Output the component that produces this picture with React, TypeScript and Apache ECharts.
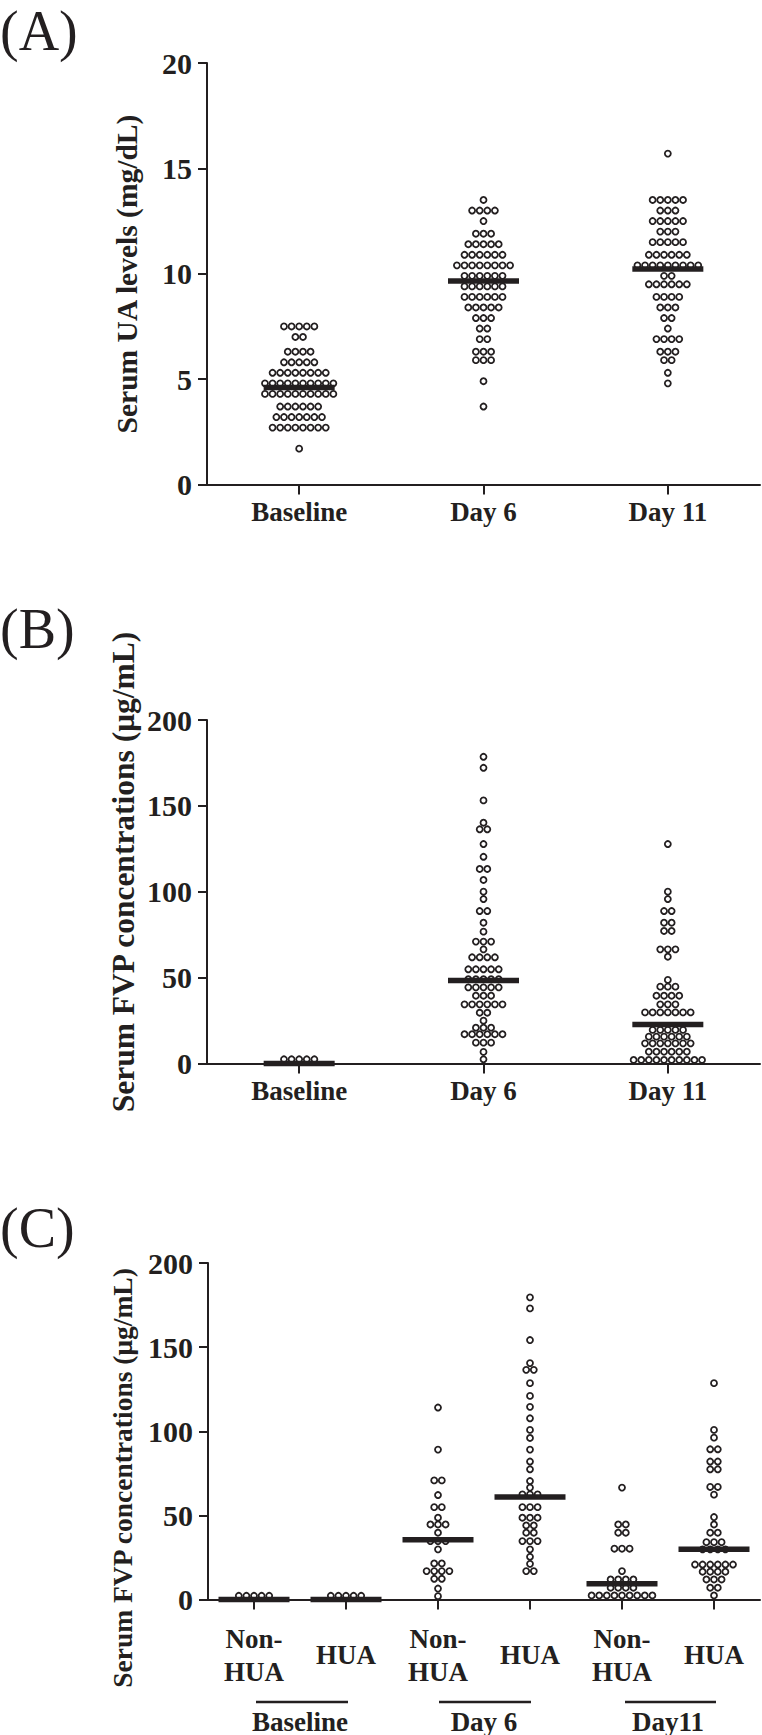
import React, { useEffect, useRef } from "react";
import * as echarts from "echarts";

// ---------- Data ----------
const CATS_AB = ["Baseline", "Day 6", "Day 11"];
const CATS_C = ["Non-\nHUA", "HUA", "Non-\nHUA", "HUA", "Non-\nHUA", "HUA"];
const GROUPS_C = ["Baseline", "Day 6", "Day11"];

const UA_TICKS = [0, 5, 10, 15, 20];
const FVP_TICKS = [0, 50, 100, 150, 200];

// Panel A: serum UA (mg/dL)
const UA_BASELINE = [
  7.5, 7.5, 7.5, 7.5, 7.5, 7.0, 7.0, 6.3, 6.3, 6.3, 6.3, 5.8, 5.8, 5.8, 5.8, 5.8,
  5.3, 5.3, 5.3, 5.3, 5.3, 5.3, 5.3, 5.3, 4.8, 4.8, 4.8, 4.8, 4.8, 4.8, 4.8, 4.8, 4.8, 4.8,
  4.3, 4.3, 4.3, 4.3, 4.3, 4.3, 4.3, 4.3, 4.3, 4.3, 3.7, 3.7, 3.7, 3.7, 3.7, 3.7,
  3.2, 3.2, 3.2, 3.2, 3.2, 3.2, 3.2, 2.7, 2.7, 2.7, 2.7, 2.7, 2.7, 2.7, 2.7, 1.7,
];
const UA_DAY6 = [
  13.5, 13.0, 13.0, 13.0, 13.0, 12.5, 11.9, 11.9, 11.9, 11.4, 11.4, 11.4, 11.4, 11.4,
  10.9, 10.9, 10.9, 10.9, 10.9, 10.9, 10.4, 10.4, 10.4, 10.4, 10.4, 10.4, 10.4, 10.4,
  9.9, 9.9, 9.9, 9.9, 9.9, 9.9, 9.4, 9.4, 9.4, 9.4, 9.4, 9.4, 8.9, 8.9, 8.9, 8.9, 8.9, 8.9,
  8.4, 8.4, 8.4, 8.4, 8.4, 7.9, 7.9, 7.9, 7.4, 7.4, 6.9, 6.9, 6.3, 6.3, 6.3, 5.9, 5.9, 5.9,
  4.9, 3.7,
];
const UA_DAY11 = [
  15.7, 13.5, 13.5, 13.5, 13.5, 13.5, 13.0, 13.0, 13.0, 12.5, 12.5, 12.5, 12.5, 12.5,
  12.0, 12.0, 12.0, 11.5, 11.5, 11.5, 11.5, 11.5, 10.9, 10.9, 10.9, 10.9, 10.9, 10.9,
  10.4, 10.4, 10.4, 10.4, 10.4, 10.4, 10.4, 10.4, 10.4, 9.9, 9.9,
  9.5, 9.5, 9.5, 9.5, 9.5, 9.5, 8.9, 8.9, 8.9, 8.9, 8.4, 8.4, 8.4, 7.9, 7.9, 7.4,
  6.9, 6.9, 6.9, 6.9, 6.3, 6.3, 6.3, 5.9, 5.9, 5.3, 4.8,
];
const UA_MEDIANS = [4.6, 9.66, 10.22];

// Panel B: serum FVP (µg/mL), all patients
const FVP_BASELINE = [2.5, 2.5, 2.5, 2.5, 2.5];
const FVP_DAY6 = [
  178.6, 172.2, 153.2, 140.2, 136.4, 136.4, 127.8, 120.4, 113.3, 113.3, 106.9, 100.1, 95.8,
  88.8, 88.8, 82.0, 76.8, 71.0, 71.0, 71.0, 66.5, 61.9, 61.9, 61.9, 61.9,
  54.9, 54.9, 54.9, 54.9, 54.9, 49.1, 49.1, 49.1, 49.1, 49.1, 44.4, 44.4, 44.4, 44.4, 44.4,
  39.5, 39.5, 39.5, 34.5, 34.5, 34.5, 34.5, 34.5, 34.5, 29.6, 29.6, 25.0,
  20.9, 20.9, 20.9, 17.1, 17.1, 17.1, 17.1, 17.1, 17.1, 12.2, 12.2, 12.2, 6.8, 2.5,
];
const FVP_DAY11 = [
  127.8, 100.1, 95.8, 88.8, 88.8, 82.0, 82.0, 77.2, 77.2, 66.5, 66.5, 66.5, 62.2,
  48.7, 44.8, 44.8, 44.8, 39.5, 39.5, 39.5, 39.5, 34.5, 34.5, 34.5,
  29.8, 29.8, 29.8, 29.8, 29.8, 29.8, 29.8, 19.6, 19.6, 19.6, 19.6, 19.6,
  15.7, 15.7, 15.7, 15.7, 15.7, 15.7, 11.8, 11.8, 11.8, 11.8, 11.8, 11.8, 11.8,
  6.9, 6.9, 6.9, 6.9, 6.9, 6.9, 2.1, 2.1, 2.1, 2.1, 2.1, 2.1, 2.1, 2.1, 2.1, 2.1,
];
const FVP_MEDIANS = [0, 48.3, 22.7];

// Panel C: serum FVP split by Non-HUA / HUA
const C_BASE_NON = [2.2, 2.2, 2.2, 2.2, 2.2];
const C_BASE_HUA = [2.2, 2.2, 2.2, 2.2, 2.2];
const C_DAY6_NON = [
  114.1, 89.1, 70.8, 70.8, 62.1, 54.9, 54.9, 48.6, 44.6, 44.6, 44.6, 39.7,
  34.7, 34.7, 34.7, 29.8, 21.4, 21.4, 16.9, 16.9, 16.9, 16.9, 12.3, 12.3, 6.5, 2.0,
];
const C_DAY6_HUA = [
  179.6, 173.0, 154.2, 140.5, 136.5, 136.5, 128.6, 121.0, 114.5, 107.7, 100.8, 96.0,
  89.1, 82.0, 77.4, 70.4, 66.5, 62.5, 62.5, 62.5, 54.9, 54.9, 54.9, 48.6, 48.6, 48.6,
  44.0, 44.0, 39.7, 39.7, 34.7, 34.7, 34.7, 29.8, 25.4, 21.2, 16.9, 16.9,
];
const C_DAY11_NON = [
  66.5, 44.6, 44.6, 39.7, 39.7, 30.2, 30.2, 30.2, 16.9, 11.9, 11.9, 11.9, 11.9,
  7.0, 7.0, 7.0, 7.0, 2.4, 2.4, 2.4, 2.4, 2.4, 2.4, 2.4, 2.4, 2.4,
];
const C_DAY11_HUA = [
  128.6, 100.8, 96.2, 89.3, 89.3, 82.0, 82.0, 77.4, 77.4, 66.9, 66.9, 62.3, 49.0, 44.6,
  39.7, 39.7, 34.1, 34.1, 34.1, 29.8, 29.8, 29.8, 29.8, 20.8, 20.8, 20.8, 20.8, 20.8, 20.8,
  16.5, 16.5, 16.5, 16.5, 11.9, 11.9, 11.9, 7.0, 7.0, 2.4,
];
const C_MEDIANS = [0, 0, 35.5, 60.9, 9.3, 29.8];

// ---------- Styling ----------
const INK = "#231f20";
const SERIF = "'Liberation Serif', 'Times New Roman', serif";
const DOT_STEP = 7.6;

// centred rows of dots (dot-plot layout), horizontal offsets in pixels
function swarm(cat: number, vals: number[]) {
  const counts = new Map<number, number>();
  vals.forEach((v) => counts.set(v, (counts.get(v) || 0) + 1));
  const out: any[] = [];
  counts.forEach((n, v) => {
    for (let i = 0; i < n; i++) {
      out.push({ value: [cat, v], symbolOffset: [(i - (n - 1) / 2) * DOT_STEP, 0] });
    }
  });
  return out;
}

function dotSeries(idx: number, groups: number[][]) {
  const data: any[] = [];
  groups.forEach((g, i) => data.push(...swarm(i, g)));
  return {
    type: "scatter", xAxisIndex: idx, yAxisIndex: idx, clip: false, silent: true,
    symbol: "circle", symbolSize: 6,
    itemStyle: { color: "rgba(0,0,0,0)", borderColor: INK, borderWidth: 1.8, opacity: 1 },
    data, z: 3,
  };
}

function medianSeries(idx: number, meds: number[]) {
  return {
    type: "scatter", xAxisIndex: idx, yAxisIndex: idx, clip: false, silent: true,
    symbol: "rect", symbolSize: [71, 5.5],
    itemStyle: { color: INK, opacity: 1 },
    data: meds.map((m, i) => [i, m]), z: 5,
  };
}

function catAxis(gridIndex: number, data: string[], extra: any = {}) {
  return {
    type: "category", gridIndex, data, boundaryGap: true,
    axisLine: { show: true, onZero: false, lineStyle: { color: INK, width: 2 } },
    axisTick: { show: true, alignWithLabel: true, length: 10, lineStyle: { color: INK, width: 2 } },
    axisLabel: { color: INK, fontFamily: SERIF, fontWeight: "bold", fontSize: 27, margin: 27, verticalAlign: "middle", interval: 0 },
    splitLine: { show: false },
    ...extra,
  };
}

function valAxis(gridIndex: number, ticks: number[]) {
  return {
    type: "value", gridIndex, min: ticks[0], max: ticks[ticks.length - 1], interval: ticks[1] - ticks[0],
    axisLine: { show: true, lineStyle: { color: INK, width: 2 } },
    axisTick: { show: true, length: 9, lineStyle: { color: INK, width: 2 } },
    axisLabel: { color: INK, fontFamily: SERIF, fontWeight: "bold", fontSize: 30, margin: 15 },
    splitLine: { show: false },
  };
}

function titleText(x: number, y: number, text: string, size: number) {
  return {
    type: "text", x, y, rotation: Math.PI / 2,
    style: { text, fill: INK, font: `bold ${size}px ${SERIF}`, textAlign: "center", textVerticalAlign: "middle" },
  };
}

function panelLabel(y: number, text: string) {
  return {
    type: "text", x: 0, y,
    style: { text, fill: INK, font: `normal 56px ${SERIF}`, textAlign: "left", textVerticalAlign: "top" },
  };
}

function groupLine(x1: number, x2: number) {
  return { type: "line", shape: { x1, y1: 1702, x2, y2: 1702 }, style: { stroke: INK, lineWidth: 2.5 } };
}

export default function App() {
  const ref = useRef<HTMLDivElement>(null);

  useEffect(() => {
    document.body.style.margin = "0";
    if (!ref.current) return;
    const chart = echarts.init(ref.current, null, { renderer: "svg" });
    const option: any = {
      animation: false,
      backgroundColor: "#ffffff",
      grid: [
        { left: 207, width: 553, top: 63, height: 421.5 },
        { left: 207, width: 553, top: 720, height: 343.6 },
        { left: 208, width: 552, top: 1263, height: 337 },
      ],
      xAxis: [
        catAxis(0, CATS_AB),
        catAxis(1, CATS_AB),
        catAxis(2, CATS_C, {
          axisLabel: { color: INK, fontFamily: SERIF, fontWeight: "bold", fontSize: 27, lineHeight: 33, margin: 55.5, verticalAlign: "middle", interval: 0 },
        }),
        {
          type: "category", gridIndex: 2, data: GROUPS_C, position: "bottom", offset: 122,
          axisLine: { show: false }, axisTick: { show: false }, splitLine: { show: false },
          axisLabel: { color: INK, fontFamily: SERIF, fontWeight: "bold", fontSize: 27, margin: 0, verticalAlign: "middle", interval: 0 },
        },
      ],
      yAxis: [valAxis(0, UA_TICKS), valAxis(1, FVP_TICKS), valAxis(2, FVP_TICKS)],
      series: [
        dotSeries(0, [UA_BASELINE, UA_DAY6, UA_DAY11]),
        medianSeries(0, UA_MEDIANS),
        dotSeries(1, [FVP_BASELINE, FVP_DAY6, FVP_DAY11]),
        medianSeries(1, FVP_MEDIANS),
        dotSeries(2, [C_BASE_NON, C_BASE_HUA, C_DAY6_NON, C_DAY6_HUA, C_DAY11_NON, C_DAY11_HUA]),
        medianSeries(2, C_MEDIANS),
      ],
      graphic: [
        panelLabel(3, "(A)"),
        panelLabel(601, "(B)"),
        panelLabel(1200, "(C)"),
        titleText(127, 274, "Serum UA levels (mg/dL)", 29.5),
        titleText(123, 872, "Serum FVP concentrations (μg/mL)", 31.5),
        titleText(122, 1478, "Serum FVP concentrations (μg/mL)", 27.5),
        groupLine(256, 348),
        groupLine(439, 531),
        groupLine(625, 716),
      ],
    };
    chart.setOption(option);
    return () => chart.dispose();
  }, []);

  return <div ref={ref} style={{ width: 762, height: 1735 }} />;
}
